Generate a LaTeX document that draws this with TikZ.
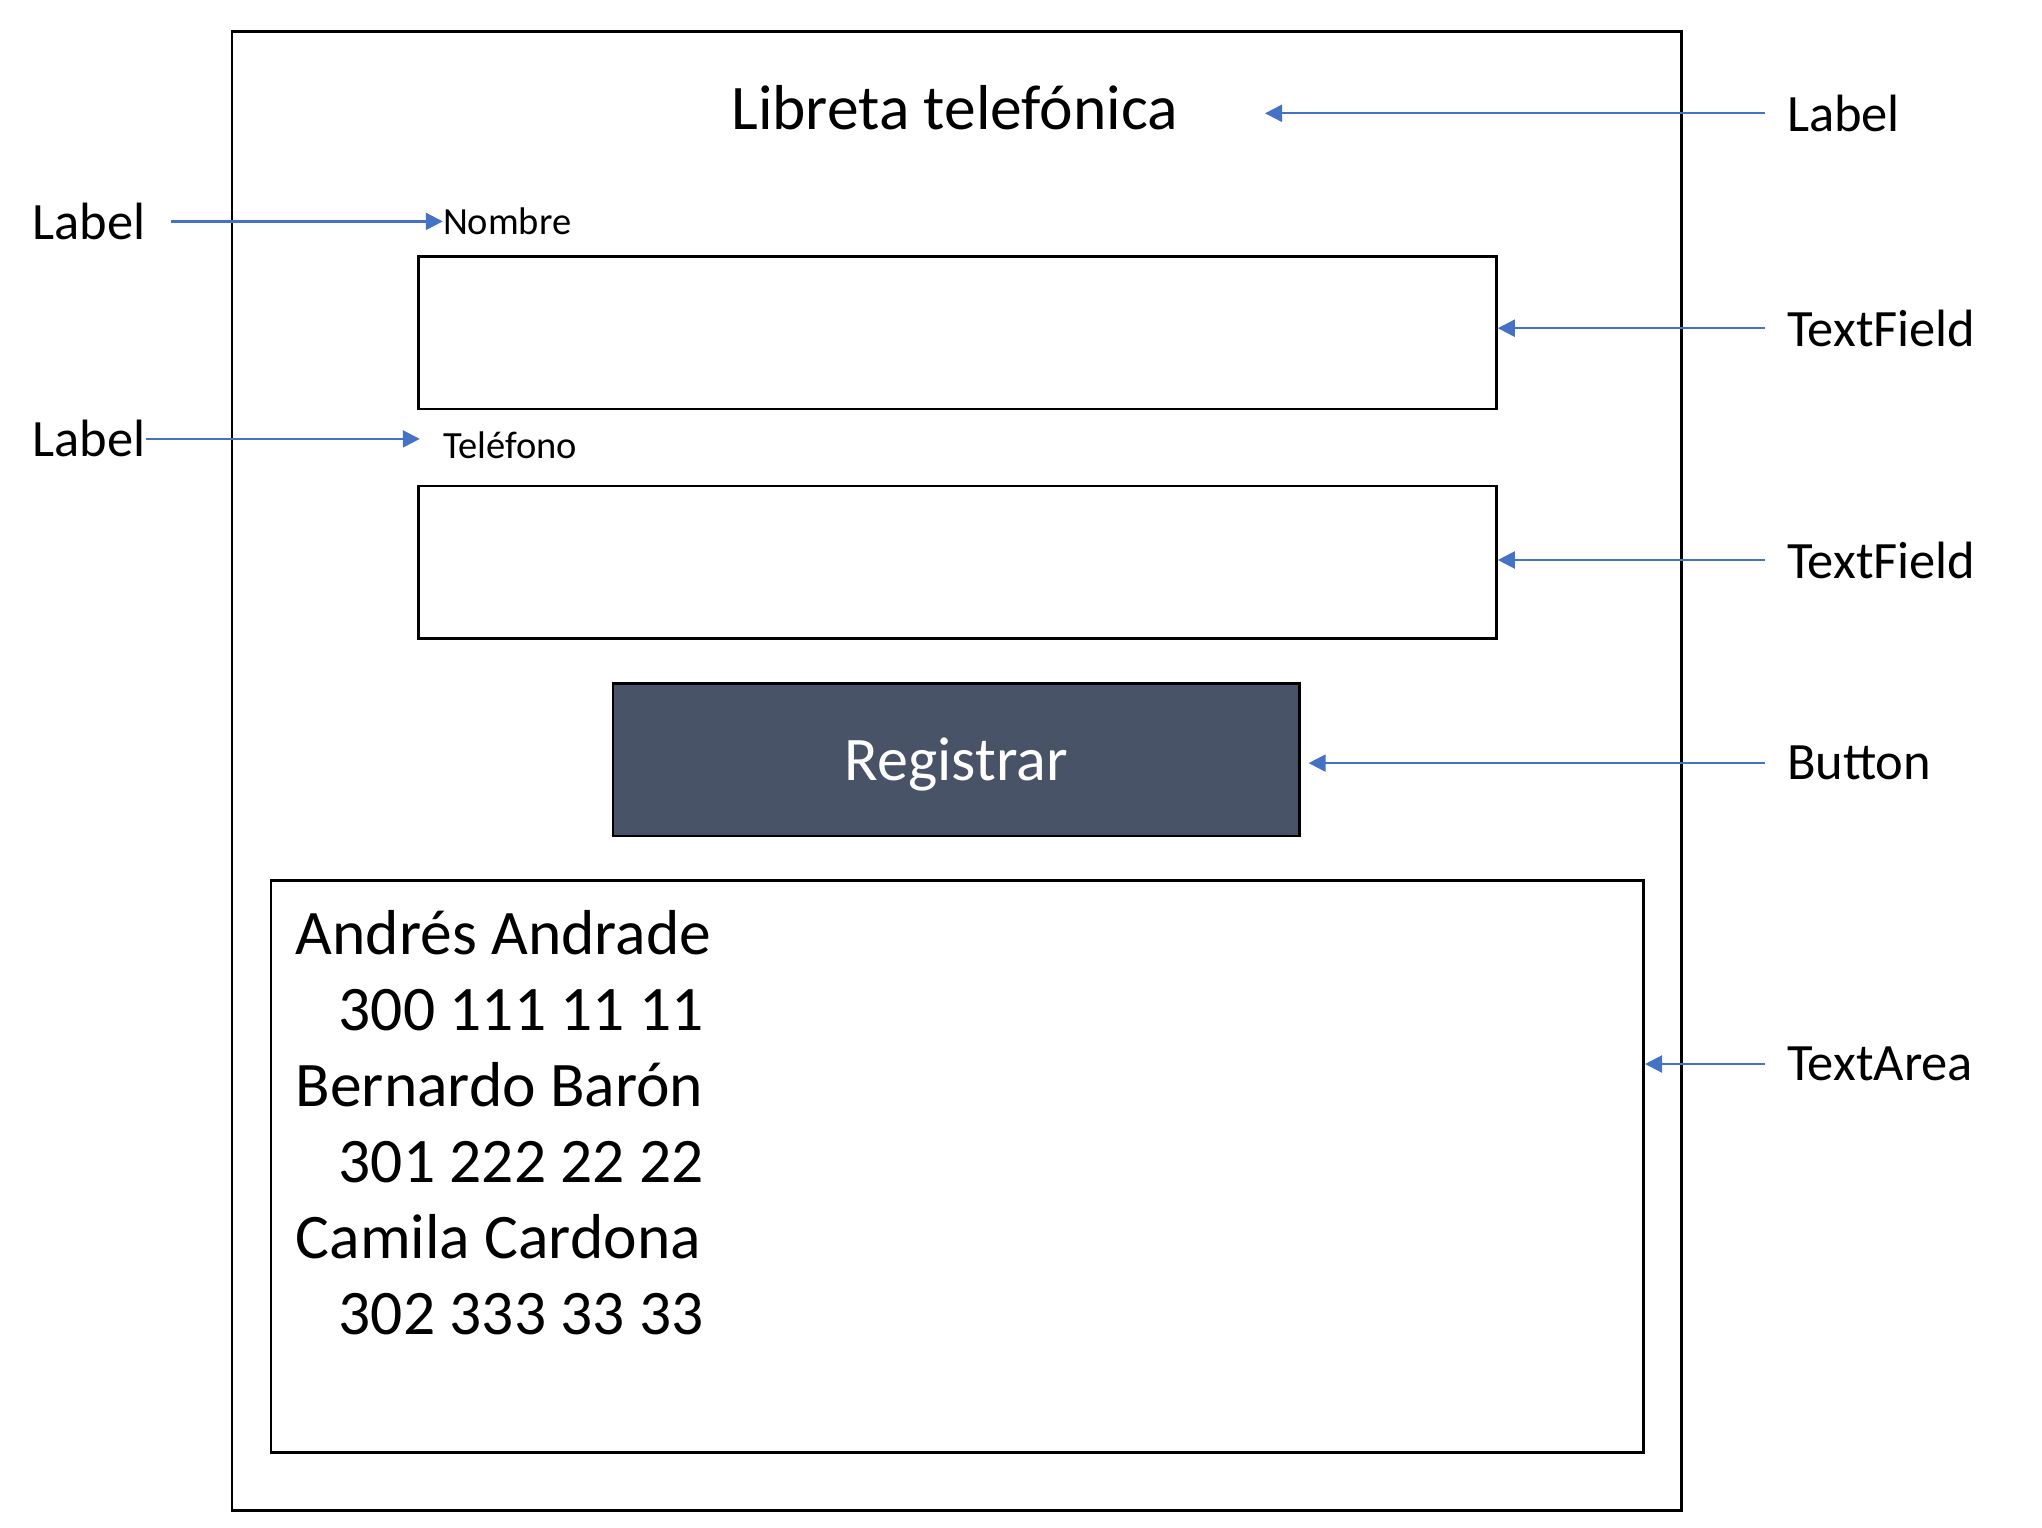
\documentclass[tikz,border=0pt]{standalone}
\usepackage{fontspec}
\setmainfont{Carlito}
\usetikzlibrary{arrows.meta,calc}
\definecolor{arrowblue}{HTML}{4472C4}
\definecolor{btnfill}{HTML}{495368}
\begin{document}
\begin{tikzpicture}[x=1pt,y=-1pt,
  ann/.style={font=\fontsize{52.5}{62}\selectfont, inner sep=0pt, anchor=west},
  conn/.style={draw=arrowblue, line width=2.2pt, -{Triangle[length=17pt,width=17pt]}},
  box/.style={draw=black, line width=2.8pt, inner sep=0pt, anchor=north west},
  small/.style={font=\fontsize{38.5}{46}\selectfont, inner sep=0pt, anchor=west},
  list/.style={font=\fontsize{63.5}{76}\selectfont, inner sep=0pt, anchor=base west}]
\useasboundingbox (0,0) rectangle (2042,1528);
% frame
\node[box, minimum width=1449.5pt, minimum height=1479pt] (frame) at (230.5,30) {};
% title
\node[font=\fontsize{63.5}{74}\selectfont, inner sep=0pt, anchor=base] (title) at (954.6,129) {Libreta telefónica};
% field labels
\node[small] (nombre) at (442.8,221.4) {Nombre};
\node[small] (tel) at (442.8,445.4) {Teléfono};
% text fields
\node[box, minimum width=1078.3pt, minimum height=152.3pt] (tf1) at (416.7,255.3) {};
\node[box, minimum width=1078.3pt, minimum height=152.3pt] (tf2) at (416.7,484.5) {};
% button
\node[box, line width=2.2pt, fill=btnfill, minimum width=686.4pt, minimum height=152.4pt] (btn) at (612,682.4) {};
\node[text=white, font=\fontsize{62}{74}\selectfont, inner sep=0pt] (btntext) at ([yshift=-5pt]btn.center) {Registrar};
% text area
\node[box, minimum width=1372.6pt, minimum height=571.8pt] (ta) at (269.6,879) {};
\node[list] (l1) at (295.6,954) {Andrés Andrade};
\node[list] (l2) at (338.6,1030) {300 111 11 11};
\node[list] (l3) at (295.6,1106) {Bernardo Barón};
\node[list] (l4) at (338.6,1182) {301 222 22 22};
\node[list] (l5) at (295.6,1258) {Camila Cardona};
\node[list] (l6) at (338.6,1334) {302 333 33 33};
% annotations left
\node[ann] (lab1) at (32.6,221.4) {Label};
\node[ann] (lab2) at (32.6,438.9) {Label};
% annotations right
\node[ann] (rlab) at (1786.8,113.3) {Label};
\node[ann] (rtf1) at (1786.8,328.2) {TextField};
\node[ann] (rtf2) at (1786.8,560) {TextField};
\node[ann] (rbtn) at (1786.8,763.1) {Button};
\node[ann] (rta) at (1786.8,1064) {TextArea};
% connectors
\draw[conn] ([xshift=25pt]lab1.east) -- (nombre.west);
\draw[conn] (lab2.east) -- ($(tel.west |- lab2.east)+(-23pt,0)$);
\draw[conn] ([xshift=-22pt]rlab.west) -- ($(title.east |- rlab.west)+(87pt,0)$);
\draw[conn] ([xshift=-22pt]rtf1.west) -- (tf1.east |- rtf1.west);
\draw[conn] ([xshift=-22pt]rtf2.west) -- (tf2.east |- rtf2.west);
\draw[conn] ([xshift=-22pt]rbtn.west) -- ($(btn.east |- rbtn.west)+(8pt,0)$);
\draw[conn] ([xshift=-22pt]rta.west) -- (ta.east |- rta.west);
\end{tikzpicture}
\end{document}
